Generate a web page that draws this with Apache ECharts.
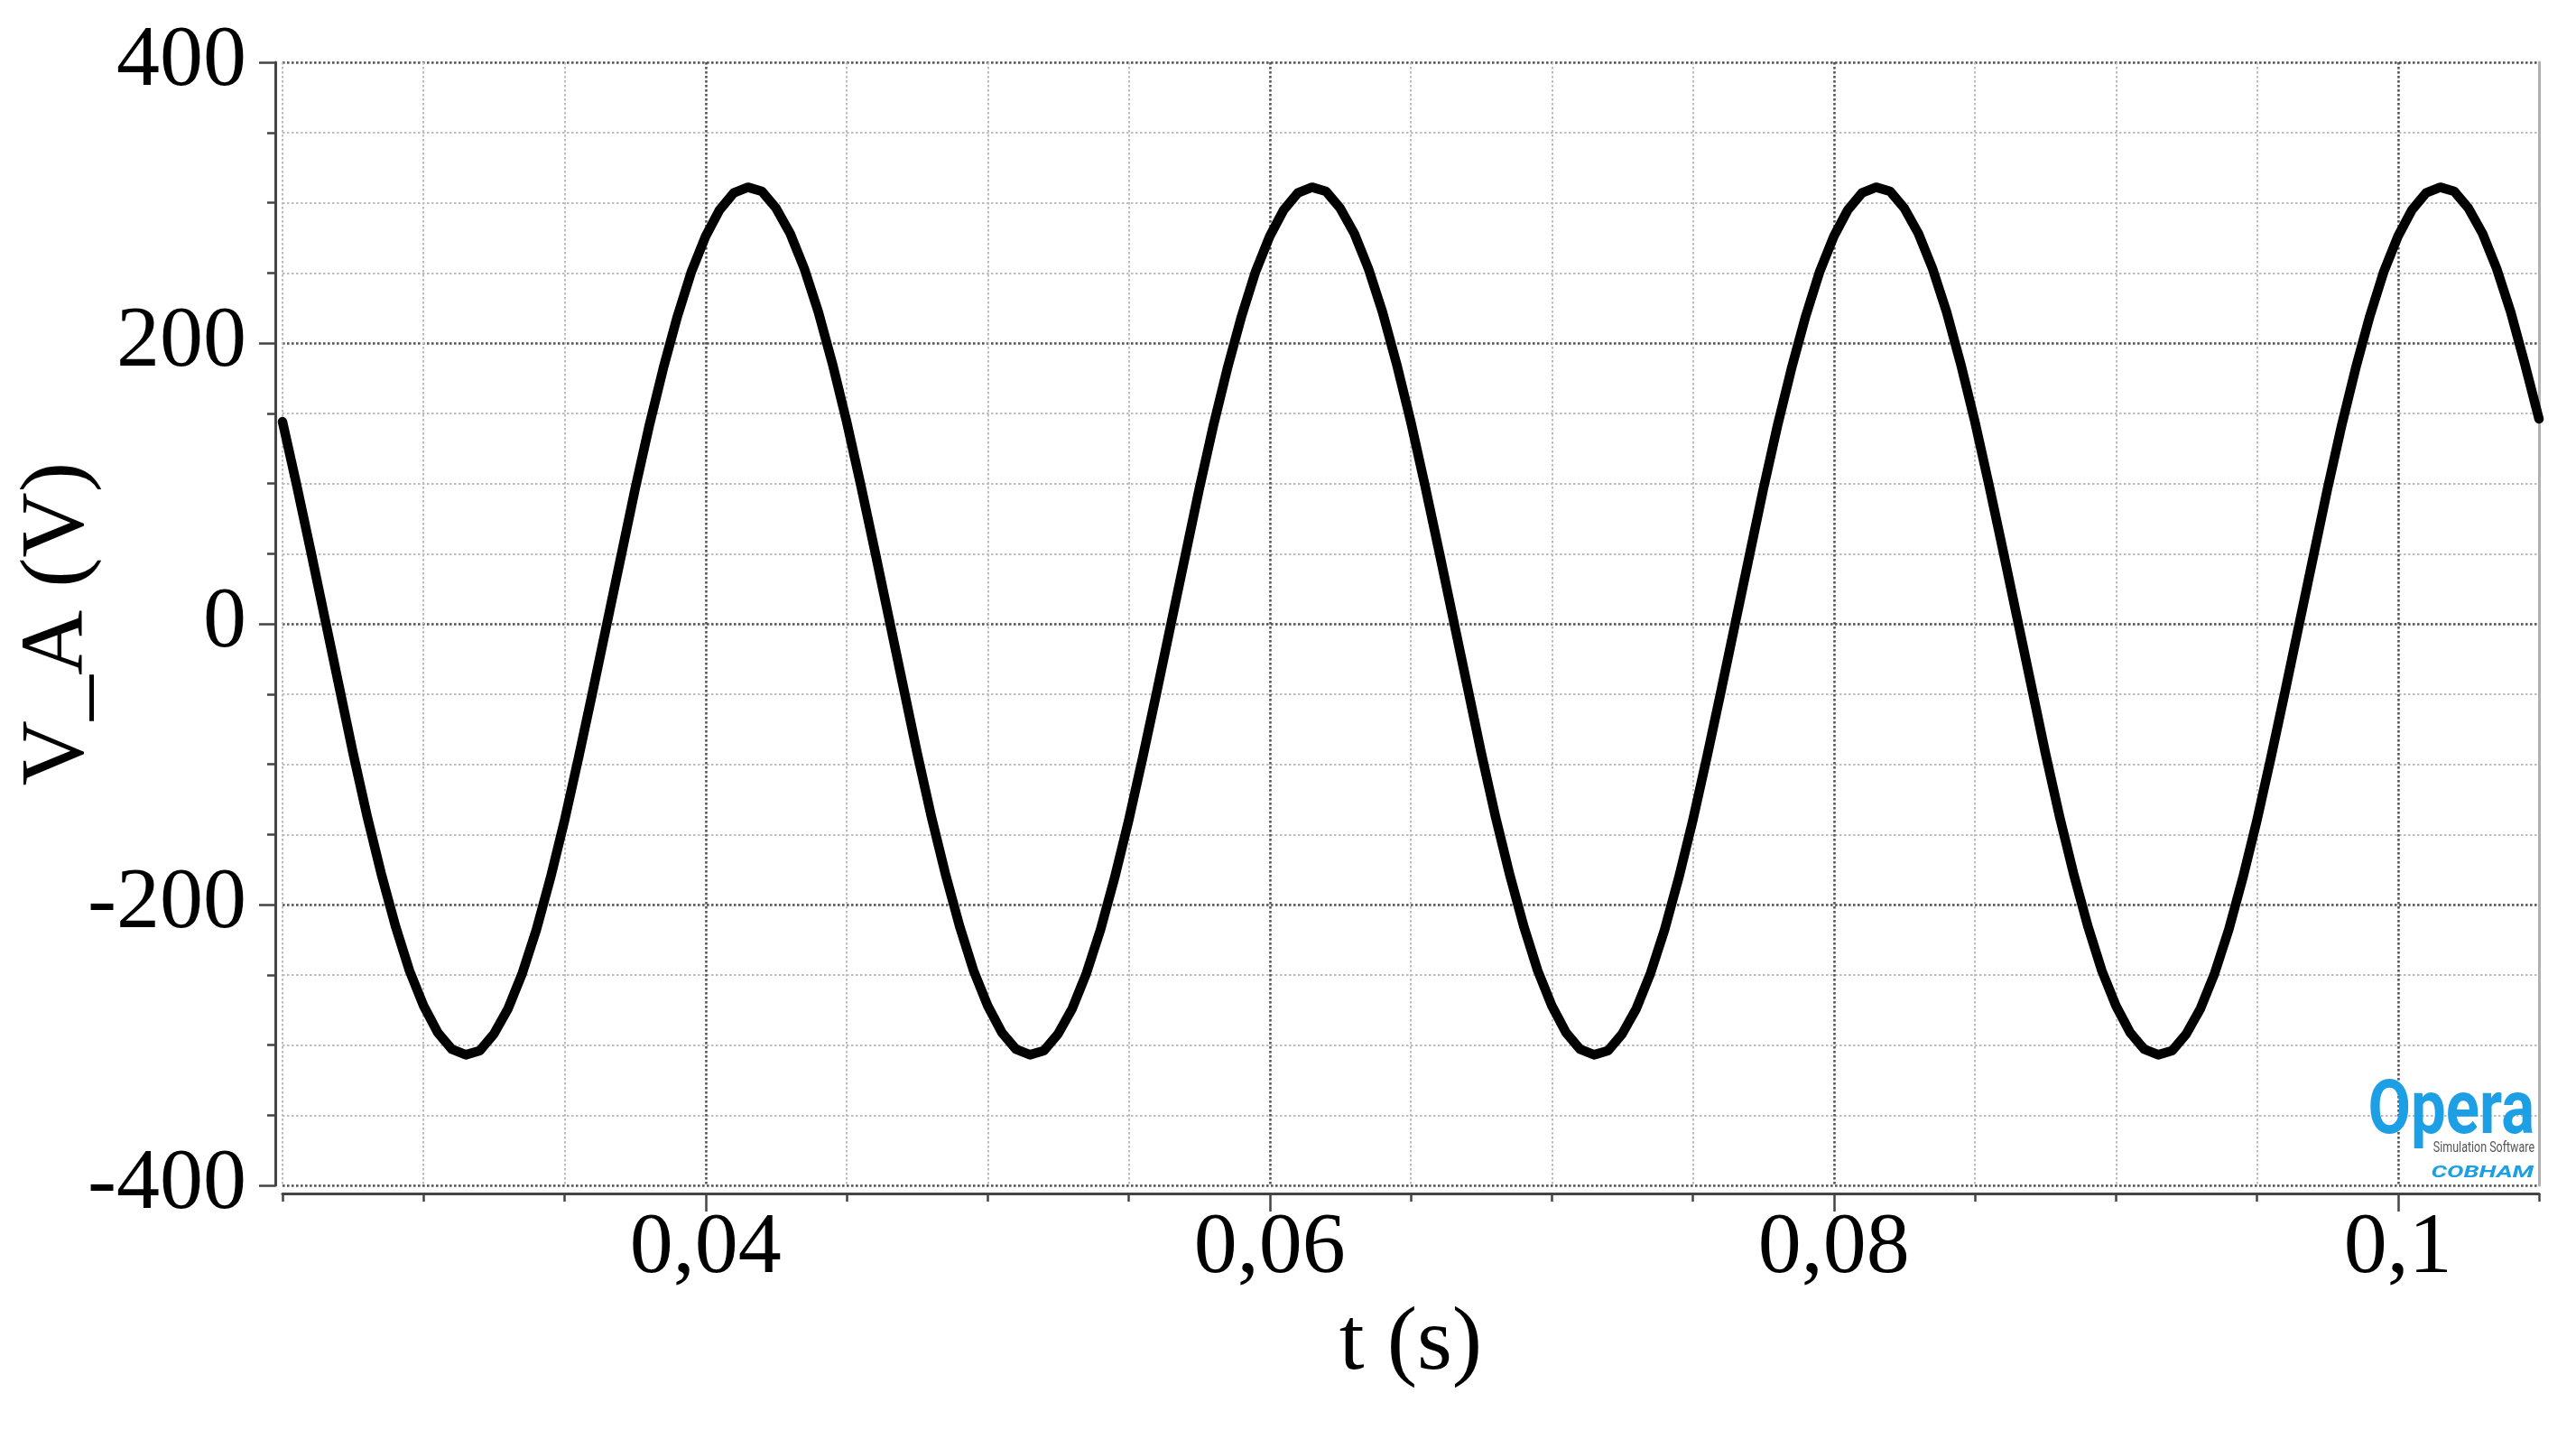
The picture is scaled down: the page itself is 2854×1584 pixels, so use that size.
<!DOCTYPE html>
<html>
<head>
<meta charset="utf-8">
<script src="https://cdn.jsdelivr.net/npm/echarts@6/dist/echarts.min.js"></script>
<style>
  html, body { margin: 0; padding: 0; background: #ffffff; }
  #chart { width: 2854px; height: 1584px; }
</style>
</head>
<body>
<div id="chart"></div>
<script>
// time samples (s)
const timeValues = [
  0.025, 0.0255, 0.026, 0.0265, 0.027, 0.0275, 0.028, 0.0285, 0.029, 0.0295,
  0.03, 0.0305, 0.031, 0.0315, 0.032, 0.0325, 0.033, 0.0335, 0.034, 0.0345,
  0.035, 0.0355, 0.036, 0.0365, 0.037, 0.0375, 0.038, 0.0385, 0.039, 0.0395,
  0.04, 0.0405, 0.041, 0.0415, 0.042, 0.0425, 0.043, 0.0435, 0.044, 0.0445,
  0.045, 0.0455, 0.046, 0.0465, 0.047, 0.0475, 0.048, 0.0485, 0.049, 0.0495,
  0.05, 0.0505, 0.051, 0.0515, 0.052, 0.0525, 0.053, 0.0535, 0.054, 0.0545,
  0.055, 0.0555, 0.056, 0.0565, 0.057, 0.0575, 0.058, 0.0585, 0.059, 0.0595,
  0.06, 0.0605, 0.061, 0.0615, 0.062, 0.0625, 0.063, 0.0635, 0.064, 0.0645,
  0.065, 0.0655, 0.066, 0.0665, 0.067, 0.0675, 0.068, 0.0685, 0.069, 0.0695,
  0.07, 0.0705, 0.071, 0.0715, 0.072, 0.0725, 0.073, 0.0735, 0.074, 0.0745,
  0.075, 0.0755, 0.076, 0.0765, 0.077, 0.0775, 0.078, 0.0785, 0.079, 0.0795,
  0.08, 0.0805, 0.081, 0.0815, 0.082, 0.0825, 0.083, 0.0835, 0.084, 0.0845,
  0.085, 0.0855, 0.086, 0.0865, 0.087, 0.0875, 0.088, 0.0885, 0.089, 0.0895,
  0.09, 0.0905, 0.091, 0.0915, 0.092, 0.0925, 0.093, 0.0935, 0.094, 0.0945,
  0.095, 0.0955, 0.096, 0.0965, 0.097, 0.0975, 0.098, 0.0985, 0.099, 0.0995,
  0.1, 0.1005, 0.101, 0.1015, 0.102, 0.1025, 0.103, 0.1035, 0.104, 0.1045,
  0.105
];

// V_A (V)
const voltageValues = [
  144, 99, 52, 4, -44, -92, -137, -178, -215, -247,
  -272, -291, -303, -307, -304, -292, -274, -249, -218, -181,
  -140, -95, -48, 0, 48, 96, 141, 182, 219, 251,
  276, 295, 307, 311, 308, 296, 278, 253, 222, 185,
  144, 99, 52, 4, -44, -92, -137, -178, -215, -247,
  -272, -291, -303, -307, -304, -292, -274, -249, -218, -181,
  -140, -95, -48, 0, 48, 96, 141, 182, 219, 251,
  276, 295, 307, 311, 308, 296, 278, 253, 222, 185,
  144, 99, 52, 4, -44, -92, -137, -178, -215, -247,
  -272, -291, -303, -307, -304, -292, -274, -249, -218, -181,
  -140, -95, -48, 0, 48, 96, 141, 182, 219, 251,
  276, 295, 307, 311, 308, 296, 278, 253, 222, 185,
  144, 99, 52, 4, -44, -92, -137, -178, -215, -247,
  -272, -291, -303, -307, -304, -292, -274, -249, -218, -181,
  -140, -95, -48, 0, 48, 96, 141, 182, 219, 251,
  276, 295, 307, 311, 308, 296, 278, 253, 222, 185,
  146
];

// labelled x ticks
const xMajorTicks = [0.04, 0.06, 0.08, 0.1];

const seriesData = timeValues.map((t, i) => [t, voltageValues[i]]);

const serif = '"Liberation Serif", "Times New Roman", serif';
const fontSize = 96;
const majorGrid = { show: true, lineStyle: { color: '#555555', width: 2.5, type: [2.5, 2.5] } };
const minorGrid = { show: true, lineStyle: { color: '#bdbdbd', width: 2, type: [2.5, 2.5] } };
const axisColor = '#444444';

const chart = echarts.init(document.getElementById('chart'), null, { renderer: 'canvas' });
chart.setOption({
  animation: false,
  backgroundColor: '#ffffff',
  grid: { left: 313, right: 41, top: 69, bottom: 271, containLabel: false, outerBoundsMode: 'none' },
  xAxis: [
    {
      type: 'value', position: 'bottom', offset: 9,
      min: 0.025, max: 0.105, interval: 0.005,
      axisLine: { show: true, onZero: false, lineStyle: { color: axisColor, width: 3 } },
      axisTick: { show: true, length: 9, lineStyle: { color: axisColor, width: 2.5 } },
      axisLabel: { show: false },
      splitLine: minorGrid
    },
    {
      type: 'value', position: 'bottom', offset: 9,
      min: 0.025, max: 0.105,
      axisLine: { show: false, onZero: false },
      axisTick: { show: true, customValues: xMajorTicks, length: 20, lineStyle: { color: axisColor, width: 2.5 } },
      axisLabel: {
        show: true, customValues: xMajorTicks, margin: 14,
        fontFamily: serif, fontSize: fontSize, color: '#000000',
        formatter: v => String(Math.round(v * 100) / 100).replace('.', ',')
      },
      splitLine: majorGrid,
      name: 't (s)', nameLocation: 'middle', nameGap: 118, nameMoveOverlap: false,
      nameTextStyle: { fontFamily: serif, fontSize: fontSize + 4, color: '#000000' }
    }
  ],
  yAxis: [
    {
      type: 'value', position: 'left', offset: 8,
      min: -400, max: 400, interval: 50,
      axisLine: { show: true, onZero: false, lineStyle: { color: axisColor, width: 3 } },
      axisTick: { show: true, length: 9, lineStyle: { color: axisColor, width: 2.5 } },
      axisLabel: { show: false },
      splitLine: minorGrid
    },
    {
      type: 'value', position: 'left', offset: 8,
      min: -400, max: 400, interval: 200,
      axisLine: { show: false, onZero: false },
      axisTick: { show: true, length: 18, lineStyle: { color: axisColor, width: 2.5 } },
      axisLabel: { show: true, margin: 32, fontFamily: serif, fontSize: fontSize, color: '#000000' },
      splitLine: majorGrid,
      name: 'V_A (V)', nameLocation: 'middle', nameGap: 190, nameMoveOverlap: false,
      nameTextStyle: { fontFamily: serif, fontSize: fontSize + 4, color: '#000000' }
    },
    {
      type: 'value', position: 'right', offset: 0,
      min: -400, max: 400,
      axisLine: { show: true, onZero: false, lineStyle: { color: '#b0b0b0', width: 3 } },
      axisTick: { show: false }, axisLabel: { show: false }, splitLine: { show: false }
    }
  ],
  series: [
    {
      type: 'line', xAxisIndex: 0, yAxisIndex: 0,
      data: seriesData, showSymbol: false, smooth: false,
      lineStyle: { color: '#000000', width: 10.5, cap: 'round', join: 'round' },
      z: 10
    }
  ],
  graphic: [
    {
      type: 'text', x: 2808, y: 1234, scaleX: 0.82, z: 20,
      style: { text: 'Opera', fill: '#1c9fe5', font: 'bold 84px Roboto', textAlign: 'right', textVerticalAlign: 'middle' }
    },
    {
      type: 'text', x: 2808, y: 1272, scaleX: 0.78, z: 20,
      style: { text: 'Simulation Software', fill: '#555555', font: '16px Roboto', textAlign: 'right', textVerticalAlign: 'middle' }
    },
    {
      type: 'text', x: 2807, y: 1299, scaleX: 1.45, z: 20,
      style: { text: 'COBHAM', fill: '#1c9fe5', font: 'italic bold 19px Roboto', textAlign: 'right', textVerticalAlign: 'middle' }
    }
  ]
});
</script>
</body>
</html>
